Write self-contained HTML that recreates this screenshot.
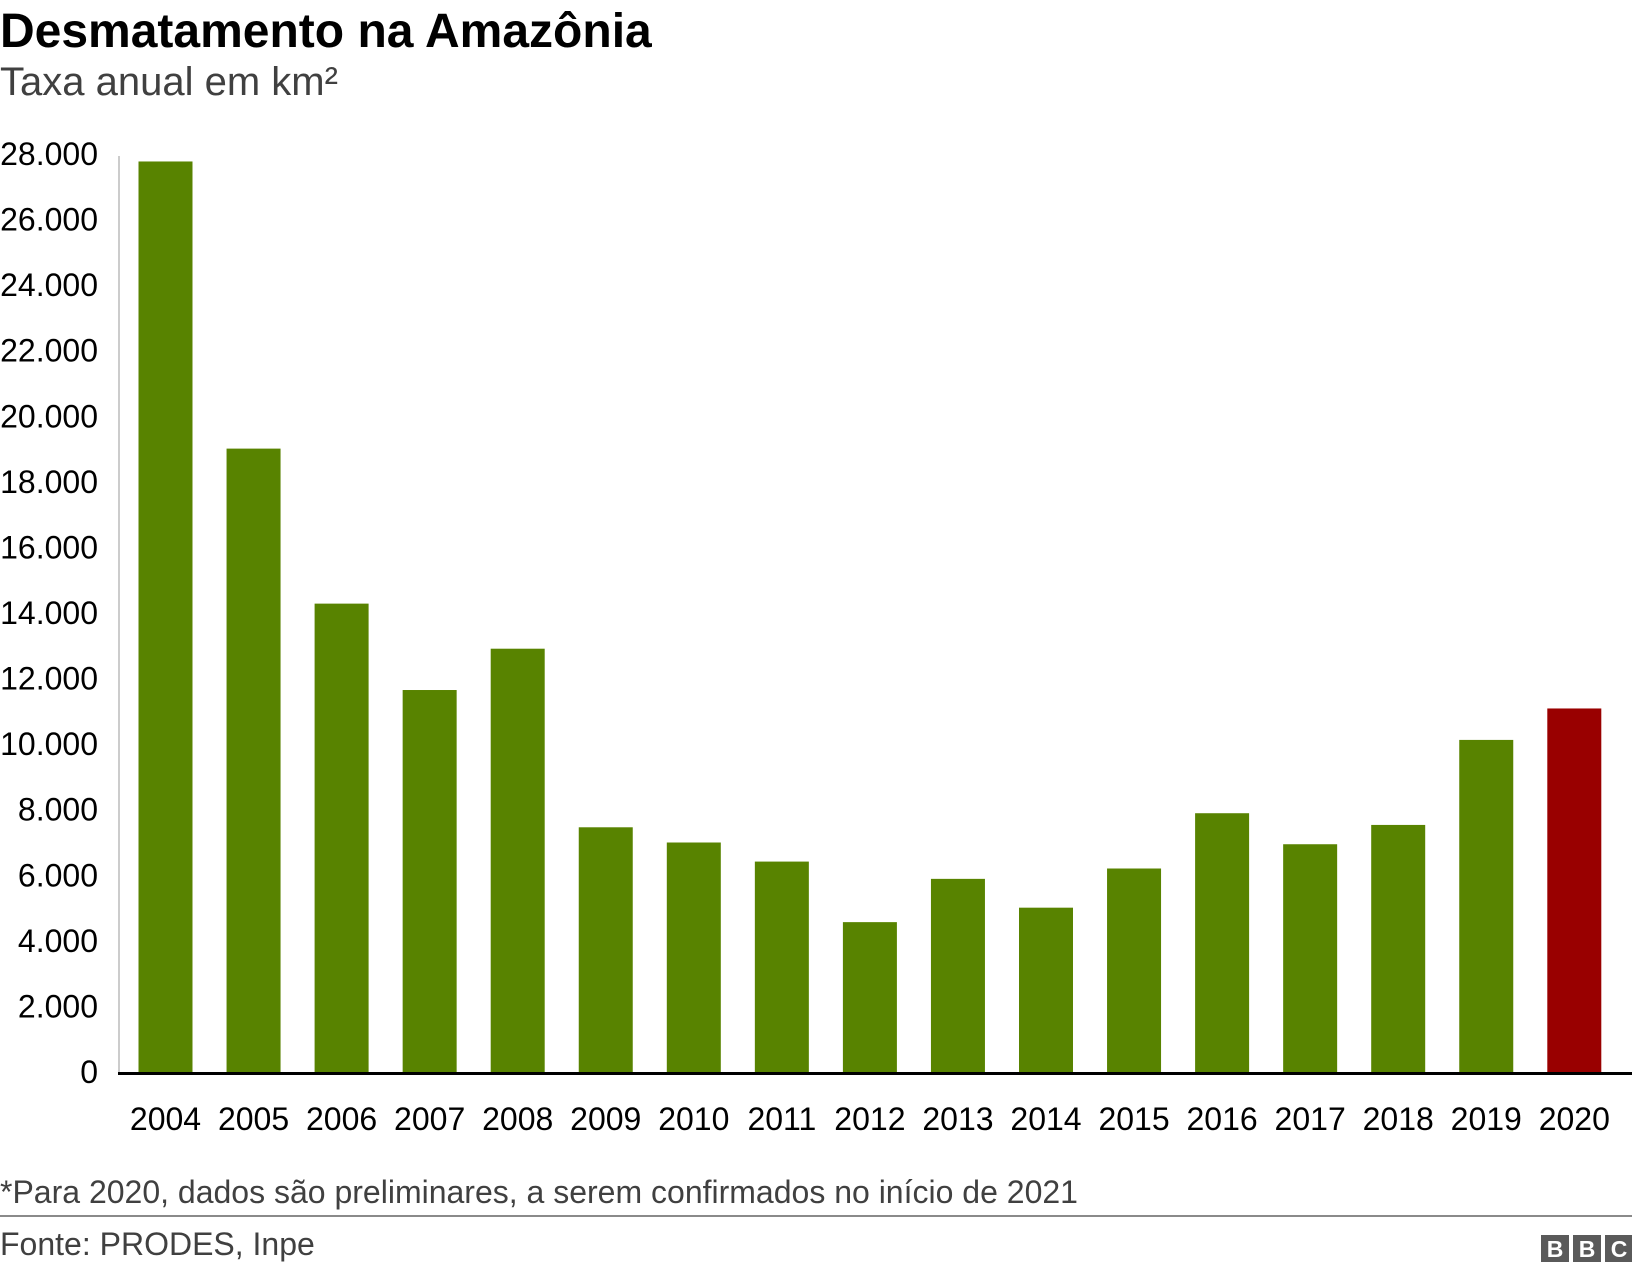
<!DOCTYPE html>
<html><head><meta charset="utf-8"><style>
body{margin:0;background:#fff;width:1632px;height:1272px;overflow:hidden;font-family:"Liberation Sans",Arial,sans-serif}
svg{display:block}
</style></head><body>
<svg width="1632" height="1272" xmlns="http://www.w3.org/2000/svg" font-family="Liberation Sans, Arial, sans-serif">
<text x="0" y="47" font-size="48" font-weight="bold" fill="#000">Desmatamento na Amazônia</text>
<text x="0" y="95" font-size="40" fill="#404040">Taxa anual em km²</text>
<g id="yaxis"></g>
<g id="bars"></g>
<g id="xaxis"></g>
<text x="0" y="1203" font-size="32" fill="#404040">*Para 2020, dados são preliminares, a serem confirmados no início de 2021</text>
<line x1="0" y1="1216" x2="1632" y2="1216" stroke="#8a8a8a" stroke-width="2"/>
<text x="0" y="1255" font-size="32" fill="#404040">Fonte: PRODES, Inpe</text>
<g>
<rect x="1541" y="1235" width="28" height="27" fill="#5a5a5a"/><rect x="1573" y="1235" width="28" height="27" fill="#5a5a5a"/><rect x="1605" y="1235" width="27" height="27" fill="#5a5a5a"/>
<text x="1555" y="1257" font-size="23" font-weight="bold" fill="#fff" text-anchor="middle">B</text>
<text x="1587" y="1257" font-size="23" font-weight="bold" fill="#fff" text-anchor="middle">B</text>
<text x="1619" y="1257" font-size="23" font-weight="bold" fill="#fff" text-anchor="middle">C</text>
</g>
</svg>
<script>
const years=["2004","2005","2006","2007","2008","2009","2010","2011","2012","2013","2014","2015","2016","2017","2018","2019","2020"];
const values=[27772,19014,14286,11651,12911,7464,7000,6418,4571,5891,5012,6207,7893,6947,7536,10129,11088];
const ticks=[0,2000,4000,6000,8000,10000,12000,14000,16000,18000,20000,22000,24000,26000,28000];
const tickLabels=["0","2.000","4.000","6.000","8.000","10.000","12.000","14.000","16.000","18.000","20.000","22.000","24.000","26.000","28.000"];
const NS="http://www.w3.org/2000/svg";
const y0=1072,yTop=154,maxV=28000;
function y(v){return y0-(v/maxV)*(y0-yTop);}
function x(i){return 165.5+i*88.05;}
const ya=document.getElementById('yaxis'),bg=document.getElementById('bars'),xa=document.getElementById('xaxis');
function mk(t,a,p){const e=document.createElementNS(NS,t);for(const k in a)e.setAttribute(k,a[k]);p.appendChild(e);return e;}
const vl=mk('line',{x1:119,y1:156,x2:119,y2:y0,stroke:'#ccc','stroke-width':2},ya);


ticks.forEach((t,i)=>{
 const e=mk('text',{x:98,y:y(t)+11,'font-size':32,fill:'#000','text-anchor':'end'},ya);
 e.textContent=tickLabels[i];
 
 
});
years.forEach((yr,i)=>{
 const r=mk('rect',{x:x(i)-27,y:y(values[i]),width:54,height:y0-y(values[i]),fill:yr==="2020"?'#990000':'#588300'},bg);
 
 
 const t=mk('text',{x:x(i),y:1130,'font-size':32,fill:'#000','text-anchor':'middle'},xa);
 t.textContent=yr;
 
 
});
const bl=mk('line',{x1:118,y1:y0+1.5,x2:1632,y2:y0+1.5,stroke:'#000','stroke-width':3},xa);


</script>
</body></html>
